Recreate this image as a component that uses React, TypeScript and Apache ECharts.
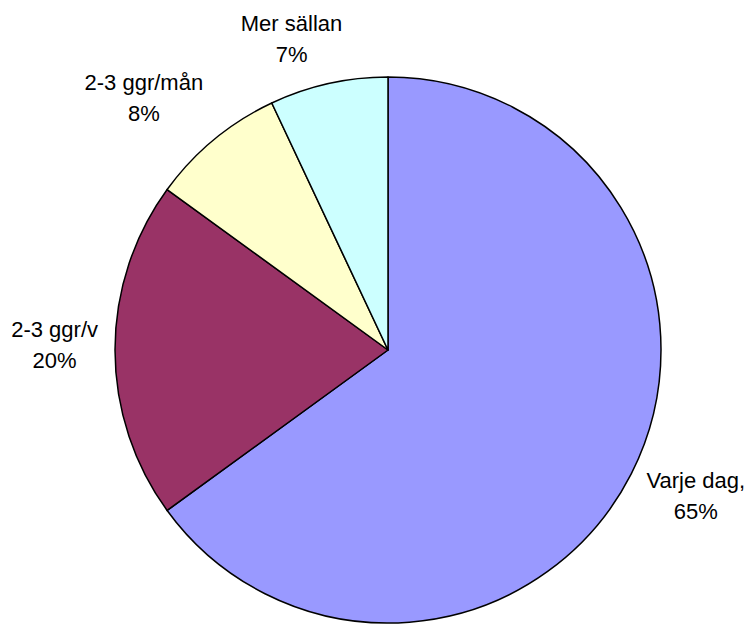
import React, { useEffect, useRef } from "react";
import * as echarts from "echarts";

const categories = ["Varje dag,", "2-3 ggr/v", "2-3 ggr/mån", "Mer sällan"];
const values = [65, 20, 8, 7];
const colors = ["#9999FF", "#993366", "#FFFFCC", "#CCFFFF"];

const CX = 388;
const CY = 350;
const R = 273;
const GAP = 14;

export default function App() {
  const ref = useRef<HTMLDivElement>(null);

  useEffect(() => {
    if (!ref.current) return;
    const chart = echarts.init(ref.current, null, { renderer: "svg" });
    const total = values.reduce((a, b) => a + b, 0);
    const clamp = (v: number) => Math.max(-1, Math.min(1, v));

    chart.setOption({
      animation: false,
      backgroundColor: "#ffffff",
      series: [
        {
          type: "pie",
          center: [CX, CY],
          radius: R,
          startAngle: 90,
          clockwise: true,
          silent: true,
          emphasis: { disabled: true },
          avoidLabelOverlap: false,
          data: categories.map((name, i) => ({
            name,
            value: values[i],
            itemStyle: { color: colors[i] },
          })),
          itemStyle: { borderColor: "#000000", borderWidth: 1.5 },
          label: {
            show: true,
            position: "outside",
            alignTo: "none",
            overflow: "none",
            formatter: (p: any) => `${p.name}\n${p.value}%`,
            fontFamily: "Liberation Sans, Arial, sans-serif",
            fontSize: 22,
            lineHeight: 31,
            color: "#000000",
            align: "center",
          },
          labelLine: { show: false },
          labelLayout: (params: any) => {
            const i = params.dataIndex;
            let cum = 0;
            for (let k = 0; k < i; k++) cum += values[k];
            const mid = ((cum + values[i] / 2) / total) * Math.PI * 2;
            const sx = Math.sin(mid);
            const sy = -Math.cos(mid);
            const w = params.labelRect.width;
            const h = params.labelRect.height;
            const ax = CX + (R + GAP) * sx;
            const ay = CY + (R + GAP) * sy;
            return {
              x: ax + clamp(sx * 3) * (w / 2) + 3 * sx,
              y: ay + clamp(sy * 1.4) * (h / 2) - 5 * Math.abs(sx) * (sy < 0.5 && sy > -0.5 ? 1 : 0),
              align: "center",
              verticalAlign: "middle",
            };
          },
        },
      ],
    });
    return () => chart.dispose();
  }, []);

  return (
    <div
      ref={ref}
      style={{ position: "absolute", left: 0, top: 0, width: 753, height: 625 }}
    />
  );
}
